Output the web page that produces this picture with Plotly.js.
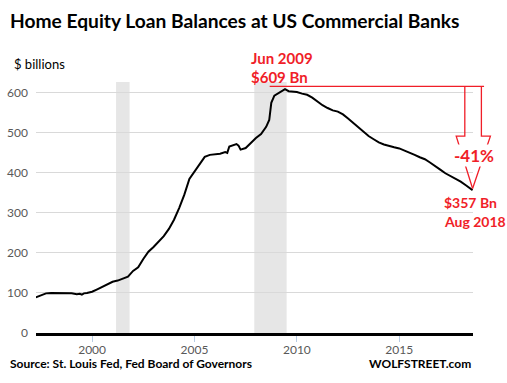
<!DOCTYPE html>
<html>
<head>
<meta charset="utf-8">
<script src="https://cdn.plot.ly/plotly-3.0.1.min.js"></script>
<style>html,body{margin:0;padding:0;background:#fff;}#chart{width:507px;height:383px;}</style>
</head>
<body>
<div id="chart"></div>
<script>
// ---- data ----
const years = [1997.25,1997.5,1997.75,1998.0,1998.25,1998.5,1998.75,1999.0,1999.25,1999.4,1999.5,1999.6,1999.75,2000.0,2000.25,2000.5,2000.75,2001.0,2001.25,2001.5,2001.75,2002.0,2002.25,2002.5,2002.75,2003.0,2003.25,2003.5,2003.75,2004.0,2004.25,2004.5,2004.75,2005.0,2005.25,2005.5,2005.75,2006.0,2006.25,2006.5,2006.6,2006.7,2006.9,2007.05,2007.15,2007.25,2007.5,2007.75,2008.0,2008.25,2008.5,2008.65,2008.75,2008.9,2009.1,2009.3,2009.42,2009.6,2009.8,2010.0,2010.25,2010.5,2010.75,2011.0,2011.25,2011.5,2011.75,2012.0,2012.25,2012.5,2012.75,2013.0,2013.25,2013.5,2013.75,2014.0,2014.25,2014.5,2014.75,2015.0,2015.25,2015.5,2015.75,2016.0,2016.25,2016.5,2016.75,2017.0,2017.25,2017.5,2017.75,2018.0,2018.25,2018.58];
const balances = [89,95,99,100,100,99,99,99,97,98,96,99,100,103,109,116,123,128,131,136,141,155,164,185,203,215,228,242,260,283,312,345,385,403,420,440,445,446,448,452,450,466,470,472,468,458,462,475,487,497,515,532,575,593,600,606,609,604,603,602,598,595,588,578,569,562,556,553,546,536,525,514,502,492,484,476,471,467,464,461,456,450,445,439,434,426,418,408,399,392,386,378,369,357];
const recessionStart = [2001.17, 2007.92];
const recessionEnd = [2001.83, 2009.5];
const yTicks = [0,100,200,300,400,500,600];
const xTicks = [2000,2005,2010,2015];
const xTickLabels = ['2000','2005','2010','2015'];
const peakLabel = ['Jun 2009','$609 Bn'];
const endLabel = ['$357 Bn','Aug 2018'];
const changeLabel = '-41%';

// ---- layout geometry ----
const W = 507, H = 383;
const M = {l:36, r:34.3, t:82, b:50.3};
const PW = W - M.l - M.r, PH = H - M.t - M.b;
const xRange = [1997.26, 2018.6];
const yRange = [0, 627];
const RED = '#f01e28';

// convert data coordinates to paper coordinates (for decoration outside plot clip)
const px = x => (x - xRange[0]) / (xRange[1] - xRange[0]);
const py = y => (y - yRange[0]) / (yRange[1] - yRange[0]);
const pixX = p => (p - M.l) / PW;
const pixY = p => (H - M.b - p) / PH;

const iPeak = balances.indexOf(Math.max(...balances));
const iEnd = balances.length - 1;
const topY = balances[iPeak] + 7;
const shoulderY = 491.75;
const tipX = years[iEnd], tipY = balances[iEnd] + 4;
const leftShaft = 2018.2, rightShaft = 2019.01;
const leftOuter = 2017.78, rightOuter = 2019.45;

const shapes = [];
for (let i = 0; i < recessionStart.length; i++) {
  shapes.push({type:'rect', xref:'x', yref:'paper', x0:recessionStart[i], x1:recessionEnd[i], y0:0, y1:1,
    fillcolor:'#e6e6e6', line:{width:0}, layer:'between'});
}
const P = (x, y) => `${px(x)},${py(y)}`;
shapes.push({type:'path', xref:'paper', yref:'paper', layer:'above',
  path:`M${P(years[iPeak]-0.75, topY)}L${px(2019.14)},${py(topY)}`, line:{color:RED, width:1.3}});
shapes.push({type:'path', xref:'paper', yref:'paper', layer:'above',
  path:`M${P(leftShaft, topY)}L${P(leftShaft, shoulderY)}L${P(leftOuter, shoulderY)}L${P(tipX, tipY)}`, line:{color:RED, width:1.3}});
shapes.push({type:'path', xref:'paper', yref:'paper', layer:'above',
  path:`M${P(rightShaft, topY)}L${P(rightShaft, shoulderY)}L${P(rightOuter, shoulderY)}L${P(tipX, tipY)}`, line:{color:RED, width:1.3}});

const fontFam = 'Lato, "Open Sans", sans-serif';
const annotations = [
  {text:'$ billions', xref:'paper', yref:'paper', x:pixX(12), y:pixY(64), xanchor:'left', yanchor:'middle', showarrow:false,
    font:{family:fontFam, size:13, color:'#000'}},
  {text:`<b>${peakLabel[0]}</b>`, xref:'paper', yref:'paper', x:pixX(249), y:pixY(58), xanchor:'left', yanchor:'middle', showarrow:false,
    font:{family:fontFam, size:15, color:RED}},
  {text:`<b>${peakLabel[1]}</b>`, xref:'paper', yref:'paper', x:pixX(249), y:pixY(77), xanchor:'left', yanchor:'middle', showarrow:false,
    font:{family:fontFam, size:15, color:RED}},
  {text:`<b>${changeLabel}</b>`, xref:'paper', yref:'paper', x:pixX(474), y:pixY(155), xanchor:'center', yanchor:'middle', showarrow:false,
    bgcolor:'#ffffff', borderpad:0, font:{family:fontFam, size:17, color:RED}},
  {text:`<b>${endLabel[0]}</b>`, xref:'paper', yref:'paper', x:pixX(442), y:pixY(202), xanchor:'left', yanchor:'middle', showarrow:false,
    font:{family:fontFam, size:14, color:RED}},
  {text:`<b>${endLabel[1]}</b>`, xref:'paper', yref:'paper', x:pixX(442), y:pixY(221), xanchor:'left', yanchor:'middle', showarrow:false,
    font:{family:fontFam, size:14, color:RED}},
  {text:'<b>Source: St. Louis Fed, Fed Board of Governors</b>', xref:'paper', yref:'paper', x:pixX(8), y:pixY(363), xanchor:'left', yanchor:'middle', showarrow:false,
    font:{family:fontFam, size:12, color:'#000'}},
  {text:'<b>WOLFSTREET.com</b>', xref:'paper', yref:'paper', x:pixX(473), y:pixY(363), xanchor:'right', yanchor:'middle', showarrow:false,
    font:{family:fontFam, size:12, color:'#000'}}
];

const trace = {x:years, y:balances, type:'scatter', mode:'lines', line:{color:'#000', width:2}, hoverinfo:'skip'};

const layout = {
  width:W, height:H, margin:M, paper_bgcolor:'#fff', plot_bgcolor:'#fff', showlegend:false,
  title:{text:'<b>Home Equity Loan Balances at US Commercial Banks</b>', xref:'container', yref:'container',
    x:10/W, xanchor:'left', y:1-21/H, yanchor:'middle', font:{family:fontFam, size:19.2, color:'#000'}},
  xaxis:{range:xRange, tickvals:xTicks, ticktext:xTickLabels, showgrid:false, zeroline:false,
    showline:true, linecolor:'#000', linewidth:3, ticks:'outside', ticklen:6, tickcolor:'#b8cce4', tickwidth:1,
    ticklabelstandoff:-2, tickfont:{family:fontFam, size:12, color:'#595959'}},
  yaxis:{range:yRange, tickvals:yTicks, showgrid:true, gridcolor:'#d9d9d9', gridwidth:1, zeroline:false,
    showline:false, ticks:'', ticklabelstandoff:7, tickfont:{family:fontFam, size:12, color:'#595959'}},
  shapes:shapes, annotations:annotations
};
Plotly.newPlot('chart', [trace], layout, {staticPlot:true, displayModeBar:false});
</script>
</body>
</html>
